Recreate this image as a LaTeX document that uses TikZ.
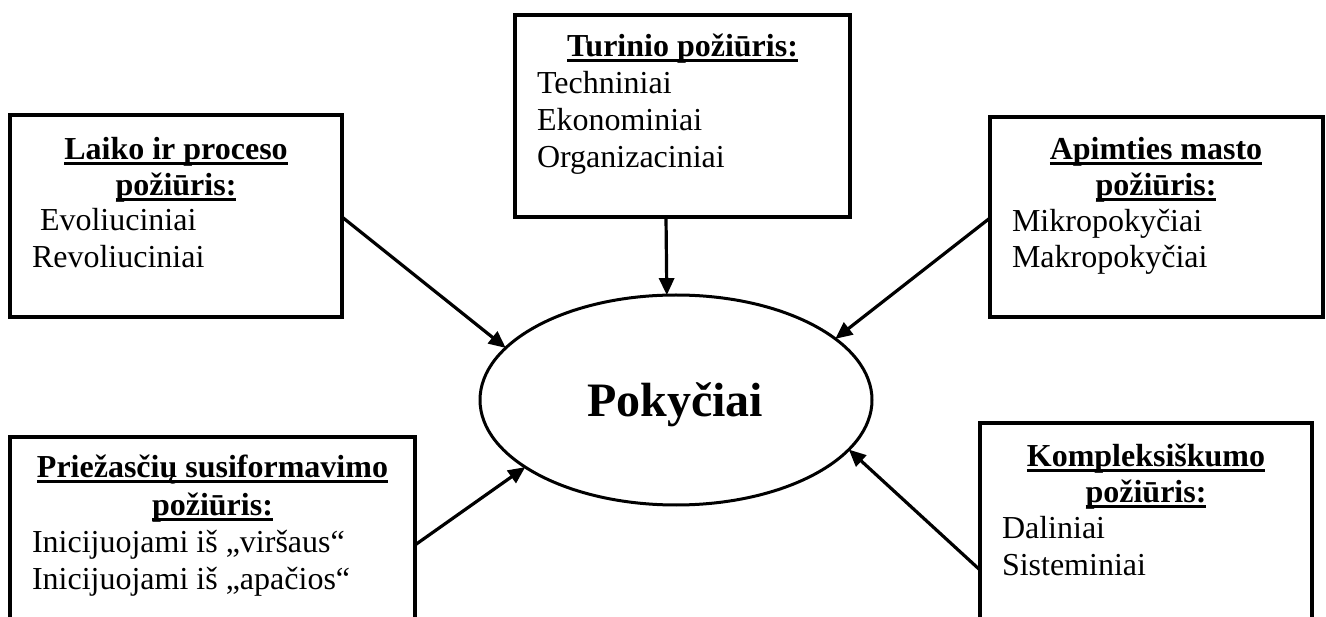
\documentclass[tikz,border=0pt]{standalone}
\usepackage{fontspec}
\setmainfont{Liberation Serif}
\usetikzlibrary{arrows.meta,shapes.geometric,calc}
\newcommand{\hdul}[1]{\setbox0\hbox{\bfseries #1}\rlap{\vrule width\wd0 height -2.5pt depth 5.5pt}\box0}
\begin{document}
\begin{tikzpicture}[x=1pt,y=-1pt,
  box/.style={draw,line width=4pt,rectangle,inner sep=0pt,outer sep=0pt,anchor=north west},
  txt/.style={inner sep=0pt,outer sep=0pt,font=\fontsize{32}{37}\selectfont},
  hd/.style={txt,anchor=base},
  it/.style={txt,anchor=base west},
  arr/.style={line width=3.2pt,-{Triangle[length=17pt,width=15pt]}}]
\useasboundingbox (0,0) rectangle (1326,617);
\fill[white] (0,0) rectangle (1326,617);
\clip (0,0) rectangle (1326,617);

% boxes
\node[box,minimum width=332pt,minimum height=202pt] (lt) at (10,115) {};
\node[box,minimum width=335pt,minimum height=202pt] (tc) at (515,15) {};
\node[box,minimum width=333pt,minimum height=200pt] (rt) at (990,117) {};
\node[box,minimum width=405pt,minimum height=250pt] (lb) at (10,437) {};
\node[box,minimum width=332pt,minimum height=250pt] (rb) at (980,423) {};

% ellipse
\node[draw,ellipse,line width=3pt,minimum width=392pt,minimum height=210pt,inner sep=0pt,outer sep=0pt] (e) at (676,400) {};
\node[inner sep=0pt,anchor=base,font=\fontsize{48}{56}\selectfont\bfseries] (pk) at (675,417) {Pokyčiai};

% left top box text
\node[hd] (lt1) at (176,160) {\hdul{Laiko ir proceso}};
\node[hd] (lt2) at (176,196) {\hdul{požiūris:}};
\node[it] (lt3) at (40,231) {Evoliuciniai};
\node[it] (lt4) at (32,268) {Revoliuciniai};

% top centre box text
\node[hd] (tc1) at (682.5,57) {\hdul{Turinio požiūris:}};
\node[it] (tc2) at (537,94) {Techniniai};
\node[it] (tc3) at (537,131) {Ekonominiai};
\node[it] (tc4) at (537,168) {Organizaciniai};

% right top box text
\node[hd] (rt1) at (1156,160) {\hdul{Apimties masto}};
\node[hd] (rt2) at (1156,196) {\hdul{požiūris:}};
\node[it] (rt3) at (1012,232) {Mikropokyčiai};
\node[it] (rt4) at (1012,268) {Makropokyčiai};

% left bottom box text
\node[hd] (lb1) at (212.5,478) {\hdul{Priežasčių susiformavimo}};
\node[hd] (lb2) at (212.5,515) {\hdul{požiūris:}};
\node[it] (lb3) at (32,552) {Inicijuojami iš „viršaus“};
\node[it] (lb4) at (32,589) {Inicijuojami iš „apačios“};

% right bottom box text
\node[hd] (rb1) at (1146,467) {\hdul{Kompleksiškumo}};
\node[hd] (rb2) at (1146,503) {\hdul{požiūris:}};
\node[it] (rb3) at (1002,538) {Daliniai};
\node[it] (rb4) at (1002,575) {Sisteminiai};

% arrows
\draw[arr] ($(lt.north east)+(0,102)$) -- (e.163);
\draw[arr] ($(tc.south west)+(151,0)$) -- (e.95.4);
\draw[arr] ($(rt.north west)+(0,101)$) -- (e.21.9);
\draw[arr] ($(lb.north east)+(0,108)$) -- (e.204.2);
\draw[arr] ($(rb.north west)+(0,147)$) -- (e.344);
\end{tikzpicture}
\end{document}
